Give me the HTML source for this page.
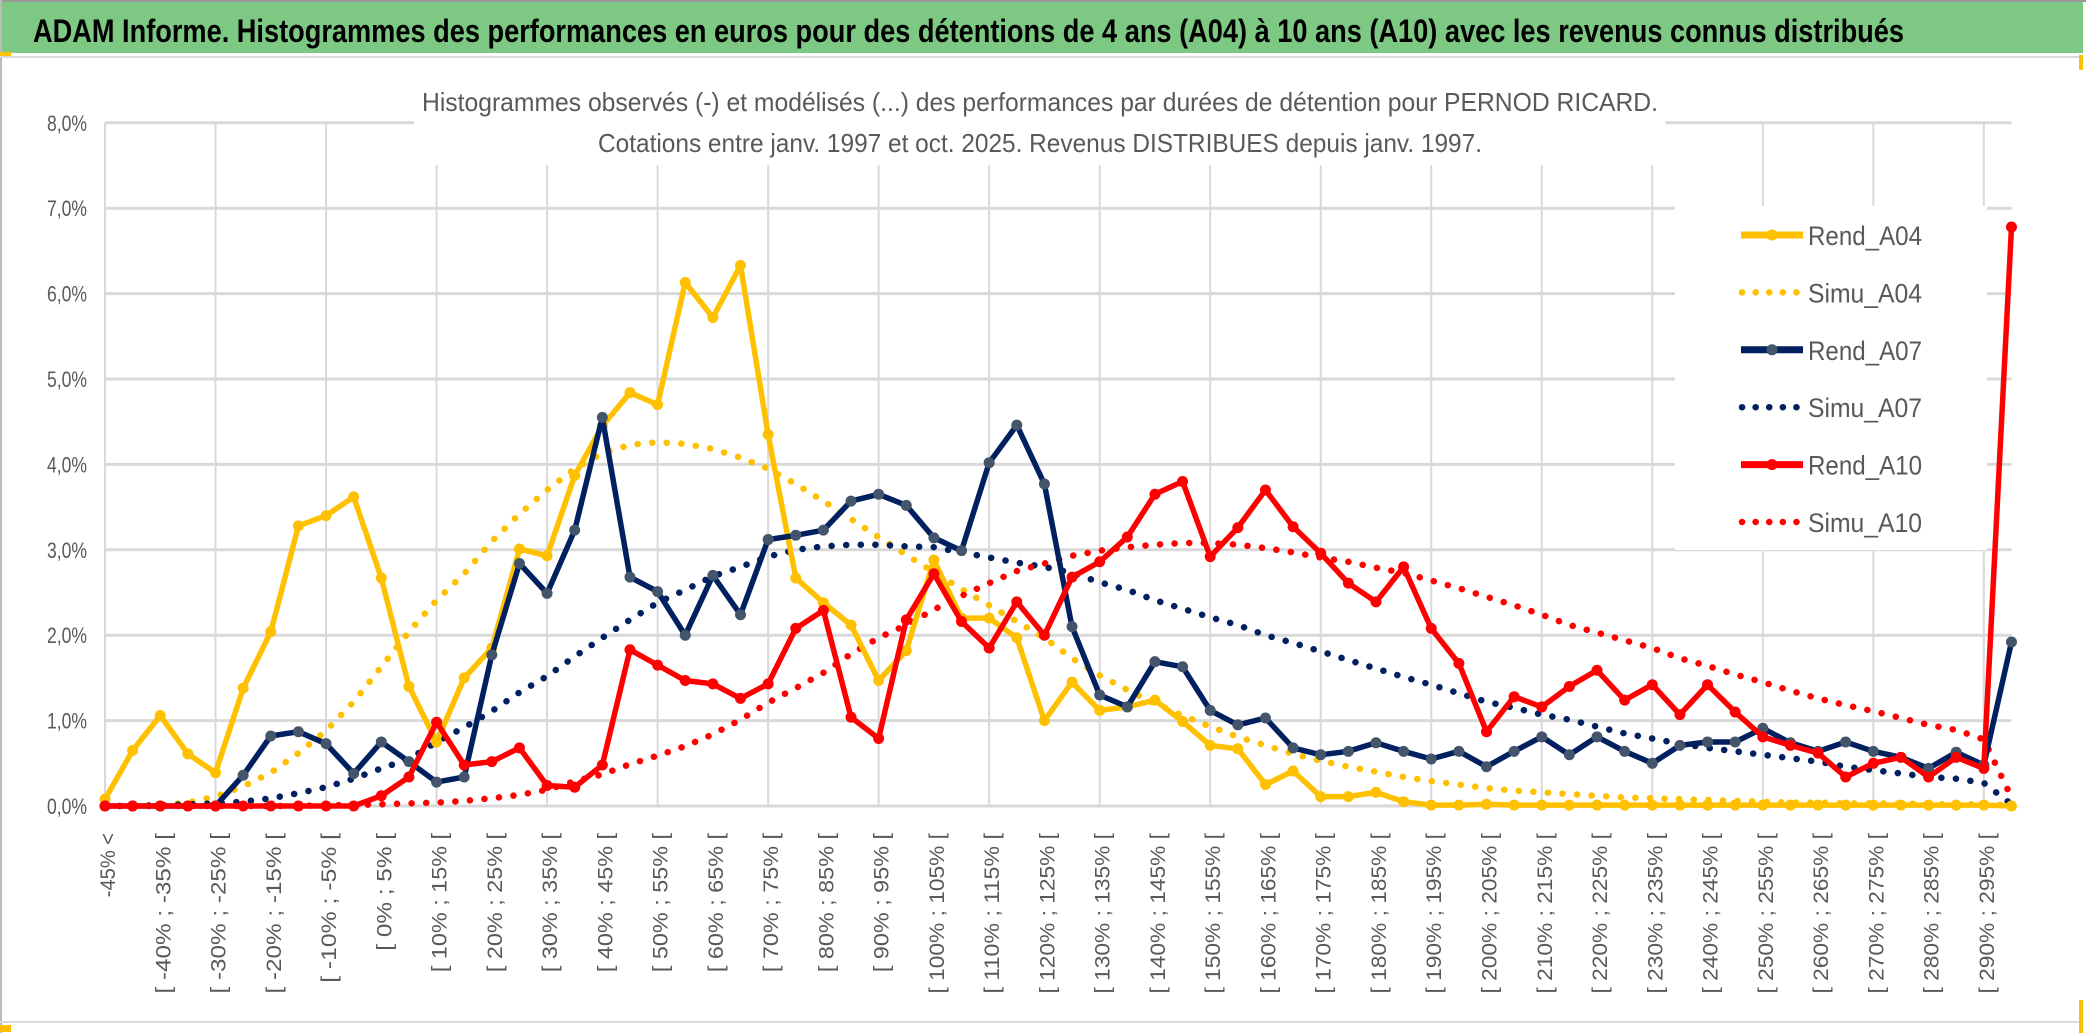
<!DOCTYPE html>
<html><head><meta charset="utf-8"><style>
html,body{margin:0;padding:0;background:#fff;}
svg{display:block;}
text{font-family:"Liberation Sans Narrow","Liberation Sans",sans-serif;}
</style></head><body>
<svg id="chart" width="2086" height="1033" viewBox="0 0 2086 1033" xmlns="http://www.w3.org/2000/svg">
<rect x="0" y="0" width="2086" height="1033" fill="#fff"/>
<rect x="1" y="2" width="2082" height="51" fill="#7DC882"/>
<line x1="0" y1="1" x2="2086" y2="1" stroke="#999" stroke-width="2"/>
<line x1="1" y1="0" x2="1" y2="1033" stroke="#bbb" stroke-width="2"/>
<rect x="0" y="52" width="11" height="4" fill="#FFC000"/>
<line x1="0" y1="57" x2="2080" y2="57" stroke="#d9d9d9" stroke-width="2"/>
<line x1="0" y1="1022" x2="2080" y2="1022" stroke="#d9d9d9" stroke-width="2"/>
<rect x="0" y="1025" width="11" height="7" fill="#FFC000"/>
<rect x="2079" y="55" width="4" height="15" fill="#FFC000"/>
<rect x="2079" y="1000" width="4" height="33" fill="#FFC000"/>
<text x="33" y="42" font-size="32" font-weight="bold" fill="#000" textLength="1871" lengthAdjust="spacingAndGlyphs">ADAM Informe. Histogrammes des performances en euros pour des détentions de 4 ans (A04) à 10 ans (A10) avec les revenus connus distribués</text>
<g id="grid"></g>
<rect x="414" y="95" width="1251" height="70" fill="#fff"/>
<rect x="1675" y="206" width="312" height="344" fill="#fff"/>
<text x="422" y="111" font-size="26" fill="#595959" textLength="1236" lengthAdjust="spacingAndGlyphs">Histogrammes observés (-) et modélisés (...) des performances par durées de détention pour PERNOD RICARD.</text>
<text x="598" y="152" font-size="26" fill="#595959" textLength="884" lengthAdjust="spacingAndGlyphs">Cotations entre janv. 1997 et oct. 2025. Revenus DISTRIBUES depuis janv. 1997.</text>
<g id="yaxis"></g>
<g id="xaxis"></g>
<g id="series"></g>
<g id="legend"></g>
</svg>
<script>
const categories = ["-45% <","[ -45% ; -40% [","[ -40% ; -35% [","[ -35% ; -30% [","[ -30% ; -25% [","[ -25% ; -20% [","[ -20% ; -15% [","[ -15% ; -10% [","[ -10% ; -5% [","[ -5% ; 0% [",
"[ 0% ; 5% [","[ 5% ; 10% [","[ 10% ; 15% [","[ 15% ; 20% [","[ 20% ; 25% [","[ 25% ; 30% [","[ 30% ; 35% [","[ 35% ; 40% [","[ 40% ; 45% [","[ 45% ; 50% [",
"[ 50% ; 55% [","[ 55% ; 60% [","[ 60% ; 65% [","[ 65% ; 70% [","[ 70% ; 75% [","[ 75% ; 80% [","[ 80% ; 85% [","[ 85% ; 90% [","[ 90% ; 95% [","[ 95% ; 100% [",
"[ 100% ; 105% [","[ 105% ; 110% [","[ 110% ; 115% [","[ 115% ; 120% [","[ 120% ; 125% [","[ 125% ; 130% [","[ 130% ; 135% [","[ 135% ; 140% [","[ 140% ; 145% [","[ 145% ; 150% [",
"[ 150% ; 155% [","[ 155% ; 160% [","[ 160% ; 165% [","[ 165% ; 170% [","[ 170% ; 175% [","[ 175% ; 180% [","[ 180% ; 185% [","[ 185% ; 190% [","[ 190% ; 195% [","[ 195% ; 200% [",
"[ 200% ; 205% [","[ 205% ; 210% [","[ 210% ; 215% [","[ 215% ; 220% [","[ 220% ; 225% [","[ 225% ; 230% [","[ 230% ; 235% [","[ 235% ; 240% [","[ 240% ; 245% [","[ 245% ; 250% [",
"[ 250% ; 255% [","[ 255% ; 260% [","[ 260% ; 265% [","[ 265% ; 270% [","[ 270% ; 275% [","[ 275% ; 280% [","[ 280% ; 285% [","[ 285% ; 290% [","[ 290% ; 295% [","> 295%"];
const rendA04 = [0.08,0.65,1.06,0.61,0.39,1.38,2.04,3.28,3.40,3.62,2.67,1.40,0.75,1.50,1.85,3.01,2.93,3.87,4.45,4.84,4.70,6.13,5.72,6.33,4.35,2.67,2.38,2.12,1.47,1.82,2.88,2.20,2.20,1.97,1.00,1.45,1.12,1.16,1.24,0.99,0.71,0.67,0.25,0.41,0.11,0.11,0.16,0.05,0.01,0.01,0.02,0.01,0.01,0.01,0.01,0.01,0.01,0.01,0.01,0.01,0.01,0.01,0.01,0.01,0.01,0.01,0.01,0.01,0.01,0.0];
const simuA04 = [0,0,0.01,0.04,0.11,0.23,0.39,0.62,0.88,1.22,1.63,2.04,2.41,2.72,3.10,3.42,3.70,3.95,4.13,4.23,4.26,4.24,4.18,4.08,3.95,3.77,3.57,3.36,3.15,2.94,2.74,2.54,2.35,2.16,1.97,1.73,1.53,1.36,1.20,1.06,0.93,0.81,0.71,0.61,0.53,0.46,0.40,0.34,0.29,0.25,0.21,0.18,0.16,0.14,0.12,0.10,0.09,0.08,0.07,0.06,0.05,0.04,0.04,0.03,0.03,0.03,0.02,0.02,0.02,0.01];
const rendA07 = [0,0,0,0,0,0.36,0.82,0.87,0.73,0.38,0.75,0.52,0.28,0.34,1.77,2.84,2.49,3.23,4.55,2.68,2.51,2.00,2.70,2.24,3.12,3.17,3.23,3.57,3.65,3.52,3.14,2.99,4.02,4.46,3.77,2.10,1.30,1.16,1.69,1.63,1.12,0.95,1.03,0.68,0.60,0.64,0.74,0.64,0.55,0.64,0.46,0.64,0.81,0.60,0.81,0.64,0.50,0.71,0.75,0.75,0.91,0.74,0.64,0.75,0.64,0.57,0.44,0.63,0.48,1.92];
const simuA07 = [0,0,0.01,0.02,0.03,0.05,0.09,0.15,0.22,0.32,0.44,0.55,0.75,0.92,1.11,1.33,1.52,1.75,1.97,2.18,2.38,2.53,2.69,2.80,2.92,3.00,3.04,3.06,3.06,3.04,3.03,2.97,2.91,2.85,2.80,2.73,2.62,2.53,2.41,2.31,2.21,2.12,2.00,1.91,1.81,1.71,1.61,1.51,1.42,1.32,1.22,1.15,1.07,1.01,0.93,0.85,0.79,0.73,0.68,0.64,0.60,0.56,0.52,0.46,0.42,0.38,0.34,0.32,0.27,0.02];
const rendA10 = [0,0,0,0,0,0,0,0,0,0,0.12,0.34,0.98,0.48,0.52,0.68,0.24,0.22,0.48,1.83,1.65,1.47,1.43,1.26,1.43,2.08,2.29,1.04,0.79,2.18,2.72,2.16,1.85,2.39,2.00,2.68,2.86,3.15,3.65,3.80,2.92,3.26,3.70,3.27,2.96,2.61,2.39,2.80,2.08,1.67,0.87,1.28,1.16,1.40,1.59,1.24,1.42,1.07,1.42,1.10,0.81,0.71,0.62,0.34,0.50,0.57,0.34,0.57,0.44,6.78];
const simuA10 = [0,0,0,0,0,0,0,0,0.01,0.01,0.02,0.03,0.04,0.06,0.09,0.13,0.19,0.29,0.37,0.49,0.59,0.70,0.84,1.01,1.21,1.38,1.56,1.78,1.97,2.12,2.30,2.46,2.61,2.75,2.84,2.93,2.99,3.03,3.06,3.08,3.08,3.06,3.02,2.97,2.91,2.86,2.79,2.73,2.64,2.55,2.45,2.35,2.24,2.12,2.03,1.94,1.85,1.73,1.64,1.54,1.45,1.35,1.26,1.18,1.11,1.03,0.95,0.89,0.78,0.10];
const yTicks = [0,1,2,3,4,5,6,7,8];
const yTickLabels = ["0,0%","1,0%","2,0%","3,0%","4,0%","5,0%","6,0%","7,0%","8,0%"];
const legendNames = ["Rend_A04","Simu_A04","Rend_A07","Simu_A07","Rend_A10","Simu_A10"];

const NS = "http://www.w3.org/2000/svg";
const X0 = 105, DX = 27.63, Y0 = 806, DY = 85.4;
function xs(i){ return X0 + i*DX; }
function ys(v){ return Y0 - v*DY; }
function mk(tag, attrs, parent){ const e=document.createElementNS(NS,tag); for(const k in attrs) e.setAttribute(k,attrs[k]); parent.appendChild(e); return e; }

const grid=document.getElementById('grid');
const xEnd = xs(categories.length-1);
yTicks.forEach(function(t){
  const l=mk('line',{x1:xs(0),x2:xEnd,y1:ys(t),y2:ys(t),stroke:'#d9d9d9','stroke-width':3},grid);
  
  
});
for(let i=0;i<categories.length;i+=4){
  const l=mk('line',{x1:xs(i),x2:xs(i),y1:ys(8),y2:ys(0),stroke:'#d9d9d9','stroke-width':2},grid);
  
  
}
const ya=document.getElementById('yaxis');
yTicks.forEach(function(t,k){
  const tx=mk('text',{x:87,y:ys(t)+8,'text-anchor':'end','font-size':22,fill:'#595959',textLength:40,lengthAdjust:'spacingAndGlyphs'},ya);
  tx.textContent=yTickLabels[k];
  
  
});
const xa=document.getElementById('xaxis');
for(let i=0;i<categories.length;i+=2){
  const s=categories[i];
  const bx=xs(i)+10, by=833;
  const tx=mk('text',{x:bx,y:by,'text-anchor':'end','font-size':21,fill:'#595959',transform:'rotate(-90 '+bx+' '+by+')',textLength:(s.length*10.7).toFixed(1),lengthAdjust:'spacingAndGlyphs'},xa);
  tx.textContent=s;
  
  
}
const sg=document.getElementById('series');
function pts(arr){ return arr.map(function(v,i){return xs(i).toFixed(1)+','+ys(v).toFixed(1);}).join(' '); }
function dotted(arr,color,name){
  const p=mk('polyline',{points:pts(arr),fill:'none',stroke:color,'stroke-width':6.5,'stroke-linecap':'round','stroke-dasharray':'0.1 14.5'},sg);
  
  
}
function solid(arr,color,mcolor,name){
  const g=mk('g',{},sg);
  
  
  mk('polyline',{points:pts(arr),fill:'none',stroke:color,'stroke-width':5.5,'stroke-linejoin':'round'},g);
  arr.forEach(function(v,i){
    const c=mk('circle',{cx:xs(i),cy:ys(v),r:5.5,fill:mcolor},g);
    
    
  });
}
dotted(simuA04,'#FFC000','simu-a04-line');
dotted(simuA07,'#002060','simu-a07-line');
dotted(simuA10,'#FF0000','simu-a10-line');
solid(rendA04,'#FFC000','#FFC000','rend-a04-line');
solid(rendA07,'#002060','#44546A','rend-a07-line');
solid(rendA10,'#FF0000','#FF0000','rend-a10-line');

const lg=document.getElementById('legend');
const lcolors=['#FFC000','#FFC000','#002060','#002060','#FF0000','#FF0000'];
const lmark=['#FFC000',null,'#44546A',null,'#FF0000',null];
legendNames.forEach(function(n,k){
  const cy=235+k*57.4;
  const g=mk('g',{},lg);
  
  
  if(lmark[k]){
    mk('line',{x1:1741,x2:1803,y1:cy,y2:cy,stroke:lcolors[k],'stroke-width':7},g);
    mk('circle',{cx:1772,cy:cy,r:5.5,fill:lmark[k]},g);
  } else {
    mk('line',{x1:1742,x2:1800,y1:cy,y2:cy,stroke:lcolors[k],'stroke-width':6.5,'stroke-linecap':'round','stroke-dasharray':'0.1 13.5'},g);
  }
  const t=mk('text',{x:1808,y:cy+10,'font-size':27,fill:'#595959',textLength:114,lengthAdjust:'spacingAndGlyphs'},g);
  t.textContent=n;
});
</script>
</body></html>
